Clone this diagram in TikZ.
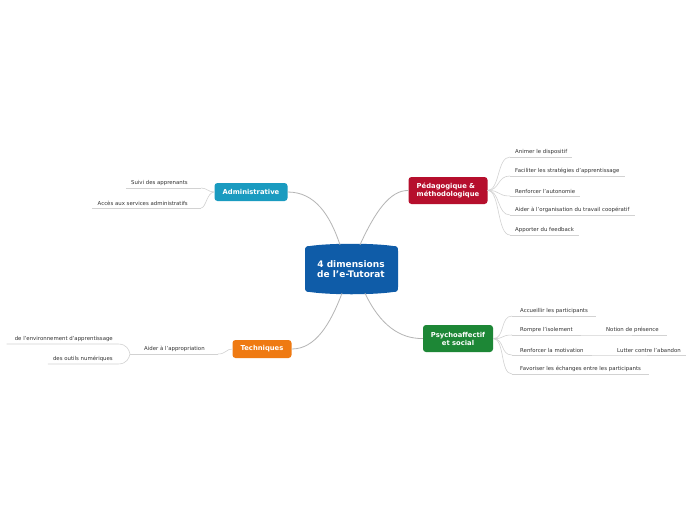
\documentclass[tikz,border=0pt]{standalone}
\usepackage{fontspec}
\setmainfont{DejaVu Sans}
\usetikzlibrary{calc}
\definecolor{cblue}{HTML}{0F5CA8}
\definecolor{admblue}{HTML}{1A9BC0}
\definecolor{pedred}{HTML}{B60F2D}
\definecolor{techorange}{HTML}{EF7A12}
\definecolor{psygreen}{HTML}{1D8736}
\definecolor{linkgray}{HTML}{B5B5B5}
\definecolor{ulgray}{HTML}{D2D2D2}
\definecolor{leaftext}{HTML}{333333}
\begin{document}
\begin{tikzpicture}[x=1pt,y=-1pt,
  branch/.style={rounded corners=3pt, text=white, font=\fontsize{6.8}{8}\selectfont\bfseries, inner sep=2pt, minimum height=18pt},
  leafnode/.style={text=leaftext, font=\fontsize{5.4}{6.4}\selectfont, inner ysep=2pt, inner xsep=5pt},
  link/.style={draw=linkgray, line width=0.8pt},
  uline/.style={draw=ulgray, line width=0.6pt},
  ctext/.style={text=white, font=\fontsize{9}{10.5}\selectfont\bfseries, align=center, minimum width=93pt, minimum height=48pt}]
\useasboundingbox (0,0) rectangle (696,520);
\fill[white] (0,0) rectangle (696,520);

% central
\fill[cblue] (305,251) .. controls (305,247) and (306,246) .. (310,246) .. controls (330,243) and (373,243) .. (393,246)
  .. controls (397,246) and (398,247) .. (398,251) -- (398,287) .. controls (398,291) and (397,292) .. (393,292)
  .. controls (373,295) and (330,295) .. (310,292) .. controls (306,292) and (305,291) .. (305,287) -- cycle;
\node[ctext] (c) at (351,269) {4 dimensions\\ de l'e-Tutorat};

% branches
\node[branch, fill=admblue, minimum width=73pt] (adm) at (251,192) {Administrative};
\node[branch, fill=pedred, minimum width=79pt, minimum height=27pt, align=left] (ped) at (448,190.5) {Pédagogique \&\\méthodologique};
\node[branch, fill=techorange, minimum width=59pt] (tech) at (262,349) {Techniques};
\node[branch, fill=psygreen, minimum width=70pt, minimum height=27pt, align=center] (psy) at (458,338.5) {Psychoaffectif\\et social};

% central links
\draw[link] ([xshift=-11pt]c.north) .. controls (330,215) and (315,192) .. (adm.east);
\draw[link] ([xshift=9pt]c.north) .. controls (375,212) and (390,190) .. (ped.west);
\draw[link] ([xshift=-9pt]c.south) .. controls (330,325) and (315,349) .. (tech.east);
\draw[link] ([xshift=14pt]c.south) .. controls (380,325) and (400,339) .. (psy.west);

% pedagogique leaves
\foreach \n/\y/\t in {p1/157/Animer le dispositif, p2/176/Faciliter les stratégies d'apprentissage, p3/196/Renforcer l'autonomie, p4/215/Aider à l'organisation du travail coopératif, p5/235/Apporter du feedback}{
  \node[leafnode, anchor=south west] (\n) at (510,\y) {\t};
  \draw[uline] (\n.south west) -- (\n.south east);
  \draw[uline] (ped.east) .. controls (500,190) and (497,\y) .. (\n.south west);
}

% psychoaffectif leaves
\foreach \n/\y/\t in {s1/316/Accueillir les participants, s2/335/Rompre l'isolement, s3/355/Renforcer la motivation, s4/374/Favoriser les échanges entre les participants}{
  \node[leafnode, anchor=south west, inner xsep=8pt] (\n) at (512,\y) {\t};
  \draw[uline] (\n.south west) -- (\n.south east);
  \draw[uline] (psy.east) .. controls (505,339) and (500,\y) .. (\n.south west);
}
\node[leafnode, anchor=south west, inner xsep=8pt] (s2a) at (598,335) {Notion de présence};
\draw[uline] (s2.south east) -- (s2a.south west) -- (s2a.south east);
\node[leafnode, anchor=south west, inner xsep=8pt] (s3a) at (609,355) {Lutter contre l'abandon};
\draw[uline] (s3.south east) -- (s3a.south west) -- ([xshift=-3pt]s3a.south east);

% administrative leaves
\node[leafnode, anchor=south east] (a1) at (193,188) {Suivi des apprenants};
\node[leafnode, anchor=south east] (a2) at (193,208) {Accès aux services administratifs};
\coordinate (a1e) at (201,188);
\coordinate (a2e) at (201,208);
\draw[uline] (a1.south west) -- (a1e);
\draw[uline] (a2.south west) -- (a2e);
\draw[uline] (adm.west) .. controls (208,192) and (207,188) .. (a1e);
\draw[uline] (adm.west) .. controls (207,192) and (206,208) .. (a2e);

% techniques leaves
\node[leafnode, anchor=south west, inner xsep=0pt] (t1) at (144,354) {Aider à l'appropriation};
\coordinate (t1w) at (130,354);
\coordinate (t1e) at (218,354);
\draw[uline] (t1w) -- (t1e);
\draw[uline] (tech.west) .. controls (226,349) and (226,354) .. (t1e);
\node[leafnode, anchor=south east] (t2) at (118,344) {de l'environnement d'apprentissage};
\node[leafnode, anchor=south east] (t3) at (118,364) {des outils numériques};
\draw[uline] ([xshift=-3pt]t2.south west) -- (t2.south east) .. controls (127,344) and (129,350) .. (t1w);
\draw[uline] (t3.south west) -- (t3.south east) .. controls (127,364) and (129,358) .. (t1w);
\end{tikzpicture}
\end{document}
